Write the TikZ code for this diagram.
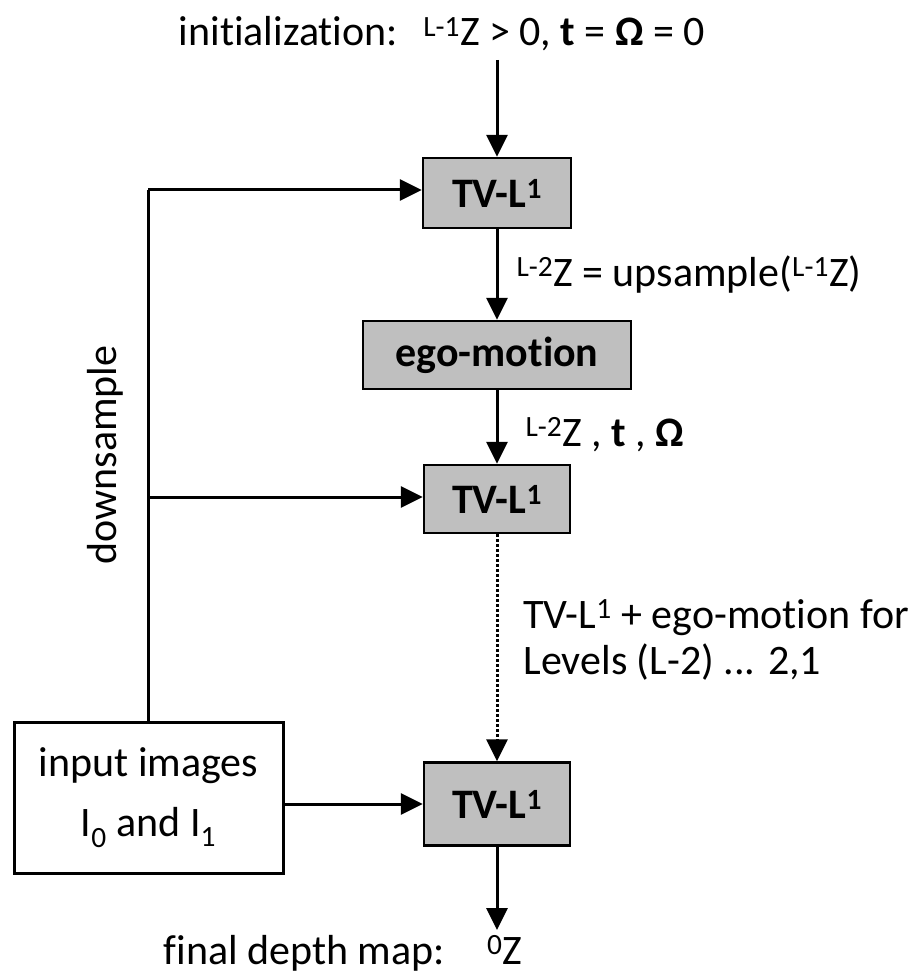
\documentclass[tikz,border=0pt]{standalone}
\usepackage{fontspec}
\setmainfont{Carlito}[Ligatures=NoCommon]
\usetikzlibrary{arrows.meta}
\begin{document}
\begin{tikzpicture}[x=1pt,y=-1pt,
  font=\fontsize{42}{50}\selectfont,
  box/.style={draw=black,line width=2.4pt,fill=gray!50,inner sep=0pt,font=\fontsize{42}{50}\selectfont\bfseries},
  wbox/.style={draw=black,line width=3pt,fill=white,inner sep=0pt,align=center},
  conn/.style={line width=3pt,-{Triangle[length=22pt,width=21pt]}},
  lin/.style={line width=3pt}]
\useasboundingbox (0,0) rectangle (915,976);
\node[box,minimum width=148pt,minimum height=70pt] (tv1) at (497,193) {TV-L\textsuperscript{1}};
\node[box,minimum width=268pt,minimum height=68pt] (ego) at (497,355) {ego-motion};
\node[box,minimum width=146pt,minimum height=68pt] (tv2) at (497,499) {TV-L\textsuperscript{1}};
\node[box,minimum width=146pt,minimum height=83pt] (tv3) at (497,804) {TV-L\textsuperscript{1}};
\node[wbox,minimum width=269pt,minimum height=151pt,font=\fontsize{42}{60}\selectfont] (inp) at (148.5,797.5) {input images\\I\textsubscript{0} and I\textsubscript{1}};
\node[anchor=base] (init) at (442,46) {initialization:\hspace{0.6em}\textsuperscript{L-1}Z > 0, \textbf{t} = \textbf{Ω} = 0};
\coordinate (initb) at (497,60);
\node[anchor=base] (final) at (343,964) {final depth map:\hspace{1em}\textsuperscript{0}Z};
\coordinate (fin) at (497,930);
\node[anchor=base west] (ups) at (513,286) {\textsuperscript{L-2}Z = upsample(\textsuperscript{L-1}Z)};
\node[anchor=base west] (zto) at (522,446) {\textsuperscript{L-2}Z , \textbf{t} , \textbf{Ω}};
\node[anchor=base west,align=left] (lev1) at (520,628) {TV-L\textsuperscript{1} + ego-motion for};
\node[anchor=base west,align=left] (lev2) at (520,674) {Levels (L-2) ... 2,1};
\node[rotate=90] (down) at (105,455) {downsample};
\coordinate (j1) at (148,190);
\coordinate (j2) at (148,497);
\draw[lin] (inp.north -| j1) -- (j1);
\draw[conn] (j1) -- (j1 -| tv1.west);
\draw[conn] (j2) -- (j2 -| tv2.west);
\draw[conn] (inp.east |- tv3) -- (tv3.west);
\draw[conn] (initb) -- (tv1.north);
\draw[conn] (tv1.south) -- (ego.north);
\draw[conn] (ego.south) -- (tv2.north);
\draw[line width=3pt,dash pattern=on 3pt off 2pt,-{Triangle[length=22pt,width=21pt]}] (tv2.south) -- (tv3.north);
\draw[conn] (tv3.south) -- (fin);
\end{tikzpicture}
\end{document}
